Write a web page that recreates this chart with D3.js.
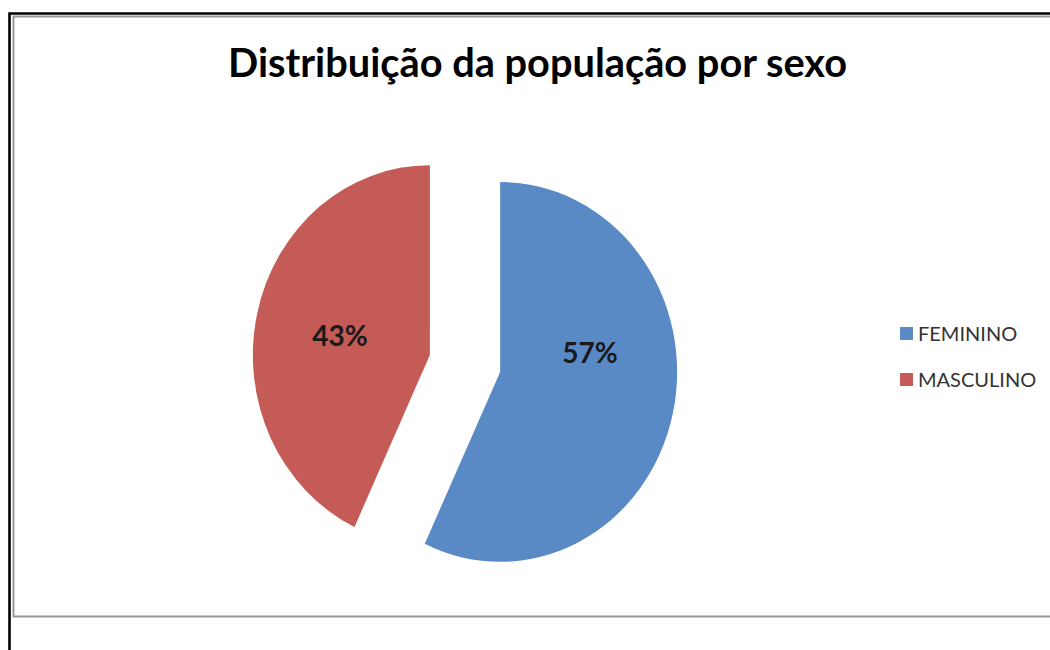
<!DOCTYPE html>
<html>
<head>
<meta charset="utf-8">
<script src="https://cdn.jsdelivr.net/npm/d3@7/dist/d3.min.js"></script>
<style>
  body { margin: 0; background: #fff; }
  svg { display: block; font-family: Lato, "Open Sans", sans-serif; }
</style>
</head>
<body>
<div id="chart"></div>
<script>
// chart data
var title = "Distribuição da população por sexo";
var categories = ["FEMININO", "MASCULINO"];
var values = [57, 43];
var colors = ["#5A8AC6", "#C55B56"];

var W = 1050, H = 650;
var svg = d3.select("#chart").append("svg")
  .attr("width", W)
  .attr("height", H);

svg.append("rect").attr("width", W).attr("height", H).attr("fill", "#fff");

// frame lines (outer black, inner grey)
svg.append("path")
  .attr("d", "M9.5," + H + " V13.5 H" + W)
  .attr("fill", "none").attr("stroke", "#000").attr("stroke-width", 2.6);
svg.append("path")
  .attr("d", "M" + W + ",16.5 H13.5 V616.5 H" + W)
  .attr("fill", "none").attr("stroke", "#999").attr("stroke-width", 2);

// title, fit to the width of the original
var t = svg.append("text")
  .attr("x", 537.5).attr("y", 77)
  .attr("text-anchor", "middle")
  .attr("font-weight", "bold")
  .attr("font-size", 40)
  .attr("fill", "#000")
  .text(title);
var tw = t.node().getComputedTextLength();
t.attr("font-size", 40 * 619 / tw);

// pie
var cx = 465, cy = 363.5, r = 177, sy = 1.073, explode = 36, labelR = 92;
var pie = d3.pie().sort(null).value(function (d) { return d; });
var arcs = pie(values);
var arc = d3.arc().innerRadius(0).outerRadius(r);

var slices = svg.append("g").attr("class", "slices")
  .selectAll("g").data(arcs).enter().append("g")
  .attr("transform", function (d) {
    var mid = (d.startAngle + d.endAngle) / 2;
    var dx = Math.sin(mid) * explode, dy = -Math.cos(mid) * explode * sy;
    return "translate(" + (cx + dx) + "," + (cy + dy) + ") scale(1," + sy + ")";
  });
slices.append("path")
  .attr("d", arc)
  .attr("fill", function (d, i) { return colors[i]; });

// percent labels
var total = d3.sum(values);
svg.append("g").attr("class", "labels")
  .selectAll("text").data(arcs).enter().append("text")
  .attr("x", function (d) {
    var mid = (d.startAngle + d.endAngle) / 2;
    return cx + Math.sin(mid) * (explode + labelR);
  })
  .attr("y", function (d) {
    var mid = (d.startAngle + d.endAngle) / 2;
    return cy - Math.cos(mid) * explode * sy - 19;
  })
  .attr("dy", "0.35em")
  .attr("text-anchor", "middle")
  .attr("font-weight", "bold")
  .attr("font-size", 28)
  .attr("fill", "#1a1a1a")
  .text(function (d) { return Math.round(d.value / total * 100) + "%"; });

// legend
var legend = svg.append("g").attr("class", "legend")
  .selectAll("g").data(categories).enter().append("g")
  .attr("transform", function (d, i) { return "translate(900," + (327 + i * 46) + ")"; });
legend.append("rect")
  .attr("width", 13).attr("height", 13)
  .attr("fill", function (d, i) { return colors[i]; });
legend.append("text")
  .attr("x", 18).attr("y", 14)
  .attr("font-size", 20)
  .attr("fill", "#333")
  .text(function (d) { return d; });
</script>
</body>
</html>
